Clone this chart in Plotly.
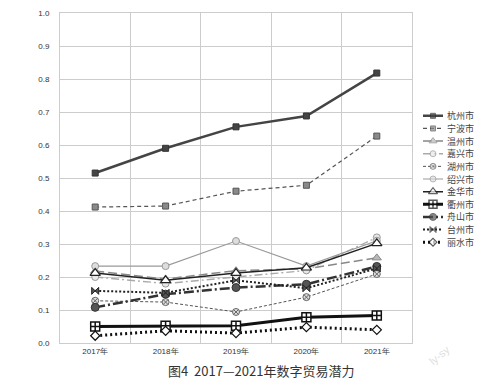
import plotly.graph_objects as go

years = ["2017年", "2018年", "2019年", "2020年", "2021年"]
cities = ["杭州市", "宁波市", "温州市", "嘉兴市", "湖州市", "绍兴市",
          "金华市", "衢州市", "舟山市", "台州市", "丽水市"]

hangzhou = [0.515, 0.590, 0.655, 0.688, 0.818]
ningbo = [0.412, 0.415, 0.460, 0.478, 0.627]
wenzhou = [0.218, 0.194, 0.219, 0.225, 0.258]
jiaxing = [0.200, 0.180, 0.200, 0.220, 0.320]
huzhou = [0.128, 0.124, 0.094, 0.139, 0.209]
shaoxing = [0.233, 0.233, 0.309, 0.233, 0.310]
jinhua = [0.212, 0.190, 0.212, 0.228, 0.302]
quzhou = [0.050, 0.052, 0.052, 0.078, 0.083]
zhoushan = [0.108, 0.148, 0.168, 0.178, 0.232]
taizhou = [0.158, 0.152, 0.190, 0.166, 0.226]
lishui = [0.022, 0.037, 0.030, 0.048, 0.040]

values = [hangzhou, ningbo, wenzhou, jiaxing, huzhou, shaoxing,
          jinhua, quzhou, zhoushan, taizhou, lishui]

yticks = [0.0, 0.1, 0.2, 0.3, 0.4, 0.5, 0.6, 0.7, 0.8, 0.9, 1.0]
ytick_text = ["0.0", "0.1", "0.2", "0.3", "0.4", "0.5", "0.6", "0.7", "0.8", "0.9", "1.0"]

styles = [
    dict(line=dict(color="#444444", width=2.5, dash="solid"),
         marker=dict(symbol="square", size=6, color="#444444", line=dict(color="#333333", width=1))),
    dict(line=dict(color="#555555", width=1.2, dash="4px,3px"),
         marker=dict(symbol="square", size=6, color="#8a8a8a", line=dict(color="#555555", width=1))),
    dict(line=dict(color="#888888", width=1.5, dash="9px,4px"),
         marker=dict(symbol="triangle-up", size=8, color="#b8b8b8", line=dict(color="#888888", width=1))),
    dict(line=dict(color="#aaaaaa", width=1.3, dash="8px,3px,2px,3px"),
         marker=dict(symbol="circle", size=7, color="#e8e8e8", line=dict(color="#999999", width=1))),
    dict(line=dict(color="#555555", width=1.0, dash="3px,2px"),
         marker=dict(symbol="circle-x", size=7, color="#dddddd", line=dict(color="#666666", width=1))),
    dict(line=dict(color="#999999", width=1.2, dash="solid"),
         marker=dict(symbol="circle", size=7, color="#dddddd", line=dict(color="#999999", width=1))),
    dict(line=dict(color="#222222", width=1.5, dash="solid"),
         marker=dict(symbol="triangle-up", size=9, color="#ffffff", line=dict(color="#222222", width=1.2))),
    dict(line=dict(color="#111111", width=3, dash="solid"),
         marker=dict(symbol="square-cross", size=9, color="#ffffff", line=dict(color="#111111", width=1.5))),
    dict(line=dict(color="#333333", width=2.5, dash="10px,3px,2px,3px"),
         marker=dict(symbol="circle", size=8, color="#555555", line=dict(color="#333333", width=1))),
    dict(line=dict(color="#222222", width=2, dash="2px,2px"),
         marker=dict(symbol="bowtie", size=7, color="#555555", line=dict(color="#222222", width=1))),
    dict(line=dict(color="#111111", width=3, dash="2px,3px"),
         marker=dict(symbol="diamond", size=7, color="#ffffff", line=dict(color="#111111", width=1.2))),
]

fig = go.Figure()

for name, vals, st in zip(cities, values, styles):
    fig.add_trace(go.Scatter(
        x=years, y=vals, name=name, mode="lines+markers",
        line=st["line"], marker=st["marker"], showlegend=False,
        xaxis="x", yaxis="y"))

# page offset from the browser's default body margin
OFF = 8
W, H = 486 - OFF, 387 - OFF
L, R, T, B = 60 - OFF, 0, 13 - OFF, 387 - 343
pw = W - L - R
ph = H - T - B


def px_x(x):
    return (x - OFF - L) / pw


def px_y(y):
    return (H - B - (y - OFF)) / ph


# custom compact legend on a hidden helper axis
n = len(cities)
for k, (name, st) in enumerate(zip(cities, styles)):
    yk = n - 1 - k
    m = dict(st["marker"])
    m["size"] = [0, max(st["marker"]["size"] - 1, 5), 0]
    fig.add_trace(go.Scatter(
        x=[0, 0.5, 1], y=[yk, yk, yk], mode="lines+markers",
        line=st["line"], marker=m, showlegend=False, hoverinfo="skip",
        xaxis="x2", yaxis="y2"))
    fig.add_annotation(x=1.1, y=yk, xref="x2", yref="y2", text=name,
                       showarrow=False, xanchor="left", yanchor="middle",
                       font=dict(family="Noto Sans CJK SC", size=9, color="#444444"))

fig.update_layout(
    width=W, height=H,
    margin=dict(l=L, r=R, t=T, b=B, pad=0),
    paper_bgcolor="white", plot_bgcolor="white",
    font=dict(family="Liberation Sans, Arial", size=8, color="#333333"),
    xaxis=dict(domain=[0, px_x(412)], type="category", tickson="boundaries",
               showgrid=True, gridcolor="#cccccc", gridwidth=1,
               showline=True, linecolor="#cccccc", mirror=True,
               ticks="", tickfont=dict(size=8, color="#333333"),
               range=[-0.5, 4.5], zeroline=False),
    yaxis=dict(range=[0, 1.0], tickvals=yticks, ticktext=ytick_text,
               showgrid=True, gridcolor="#cccccc", gridwidth=1,
               showline=True, linecolor="#cccccc", mirror=True,
               ticks="", ticklabelstandoff=8,
               tickfont=dict(size=8, color="#333333"), zeroline=False),
    xaxis2=dict(domain=[px_x(423), px_x(483)], range=[0, 3], visible=False,
                anchor="y2", fixedrange=True),
    yaxis2=dict(domain=[px_y(248.5), px_y(109.5)], range=[-0.5, n - 0.5],
                visible=False, anchor="x2", fixedrange=True),
)

fig.add_annotation(x=px_x(261), y=px_y(370), xref="paper", yref="paper",
                   text="图4  2017—2021年数字贸易潜力", showarrow=False,
                   xanchor="center", yanchor="middle",
                   font=dict(family="Noto Sans CJK SC", size=13, color="#333333"))
fig.add_annotation(x=px_x(455), y=px_y(370), xref="paper", yref="paper",
                   text="ly-sy", showarrow=False, textangle=-40,
                   font=dict(family="Liberation Sans", size=11, color="#e0e0e0"))

fig.write_html("out.html")
